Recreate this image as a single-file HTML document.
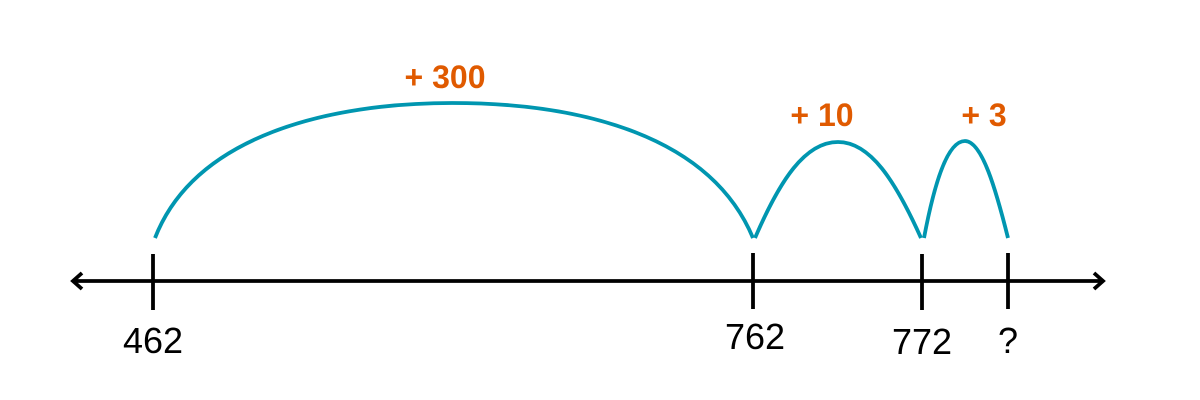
<!DOCTYPE html>
<html><head><style>
html,body{margin:0;padding:0;background:#fff;}
svg{display:block;}
</style></head><body>
<svg width="1200" height="400" viewBox="0 0 1200 400" xmlns="http://www.w3.org/2000/svg">
<g stroke="#000" stroke-width="3.8" fill="none" stroke-linecap="butt">
<line x1="74" y1="281" x2="1102" y2="281"/>
<polyline points="82,273 73,281 82,289" stroke-linejoin="miter"/>
<polyline points="1094,273 1103,281 1094,289" stroke-linejoin="miter"/>
<line x1="153" y1="254" x2="153" y2="310"/>
<line x1="753" y1="253" x2="753" y2="309"/>
<line x1="922" y1="254" x2="922" y2="310"/>
<line x1="1008" y1="253" x2="1008" y2="309"/>
</g>
<g stroke="#0096b0" stroke-width="3.8" fill="none">
<path d="M155 238 C195 135, 330 103, 452 103 C580 103, 710 135, 753 238"/>
<path d="M755 238 C780 180, 805 142, 838 142 C870 142, 895 180, 921 238"/>
<path d="M924 238 C934 185, 947 141, 965 141 C982 141, 996 190, 1008 238"/>
</g>
<g font-family="Liberation Sans, sans-serif" font-size="36" fill="#000" text-anchor="middle">
<text x="153" y="353">462</text>
<text x="755" y="349">762</text>
<text x="922" y="354">772</text>
<text x="1008" y="353">?</text>
</g>
<g font-family="Liberation Sans, sans-serif" font-size="32" font-weight="bold" fill="#e05a00" text-anchor="middle">
<text x="445" y="88">+ 300</text>
<text x="822" y="126">+ 10</text>
<text x="984" y="126">+ 3</text>
</g>
</svg>
</body></html>
